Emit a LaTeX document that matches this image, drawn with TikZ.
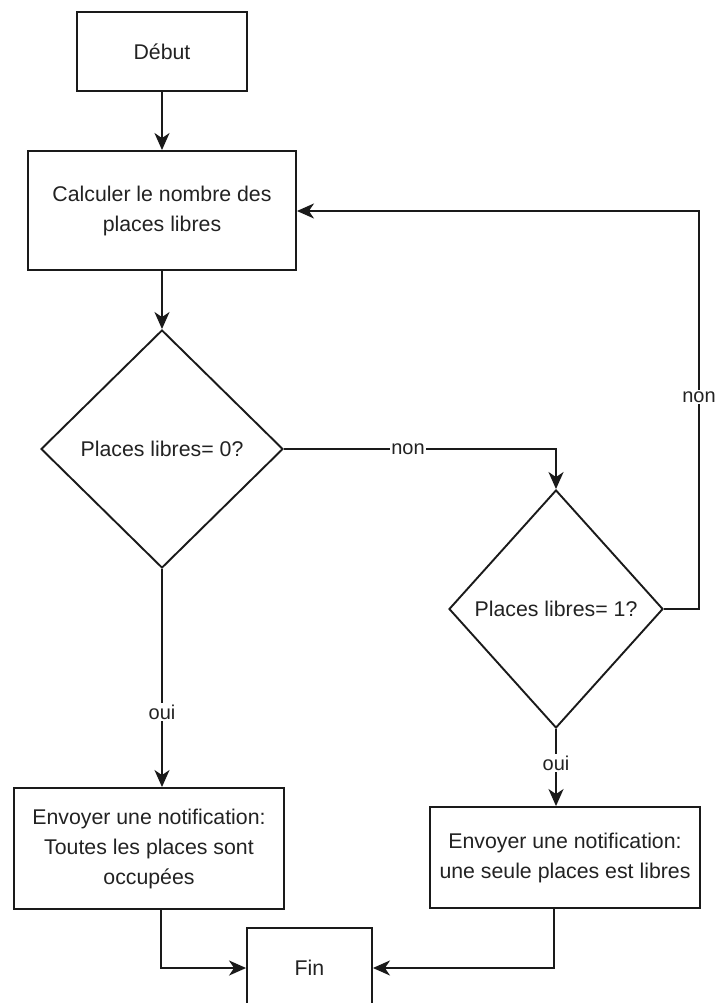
\documentclass[tikz,border=0pt]{standalone}
\usepackage{fontspec}
\setmainfont{Liberation Sans}
\usetikzlibrary{shapes.geometric,arrows.meta}

\definecolor{ink}{HTML}{1A1A1A}
\definecolor{txt}{HTML}{222222}

\tikzset{
  box/.style={draw=ink, line width=1.9pt, rectangle, inner sep=0pt,
    align=center, text=txt, font=\fontsize{21.3}{30}\selectfont},
  decision/.style={draw=ink, line width=1.9pt, diamond, inner sep=0pt,
    text=txt, font=\fontsize{21.3}{30}\selectfont},
  flow/.style={draw=ink, line width=1.9pt,
    -{Stealth[length=17pt,width=15pt,inset=5pt]}},
  lbl/.style={fill=white, inner sep=1.5pt, text=txt,
    font=\fontsize{20}{22}\selectfont},
}

\begin{document}
\begin{tikzpicture}[x=1pt, y=-1pt]
  \useasboundingbox (0,0) rectangle (716,1003);

  % process boxes
  \node[box, minimum width=170pt, minimum height=79pt] (debut) at (162,51.5) {Début};
  \node[box, minimum width=268pt, minimum height=119pt] (calc) at (162,210.5)
    {Calculer le nombre des\\places libres};
  \node[box, minimum width=270pt, minimum height=121pt] (notifA) at (149,848.5)
    {Envoyer une notification:\\Toutes les places sont\\occupées};
  \node[box, minimum width=270pt, minimum height=101pt] (notifB) at (565,857.5)
    {Envoyer une notification:\\une seule places est libres};
  \node[box, minimum width=125pt, minimum height=80pt] (fin) at (309.5,968) {Fin};

  % decisions
  \node[decision, minimum width=242pt, minimum height=238pt] (zero) at (162,449)
    {Places libres= 0?};
  \node[decision, minimum width=214pt, minimum height=238pt] (one) at (556,609)
    {Places libres= 1?};

  % helper points for the elbow connectors
  \coordinate (zeroR) at (556,449);
  \coordinate (oneR) at (699,609);
  \coordinate (loopTop) at (699,211);
  \coordinate (aDown) at (161,968);
  \coordinate (bDown) at (554,968);

  % main flow
  \draw[flow] (debut.south) -- (calc.north);
  \draw[flow] (calc.south) -- (zero.north);

  % "non" from the first test to the second
  \draw[flow] (zero.east) -- (zeroR) -- (one.north);
  \node[lbl] at (408,449) {non};

  % "non" from the second test back to the computation
  \draw[flow] (one.east) -- (oneR) -- (loopTop) -- (calc.east |- loopTop);
  \node[lbl] at (699,397) {non};

  % "oui" branches
  \draw[flow] (zero.south) -- (zero.south |- notifA.north);
  \node[lbl] at (162,712) {oui};
  \draw[flow] (one.south) -- (one.south |- notifB.north);
  \node[lbl] at (556,763) {oui};

  % joins into the end box
  \draw[flow] (aDown |- notifA.south) -- (aDown) -- (fin.west);
  \draw[flow] (bDown |- notifB.south) -- (bDown) -- (fin.east);
\end{tikzpicture}
\end{document}
